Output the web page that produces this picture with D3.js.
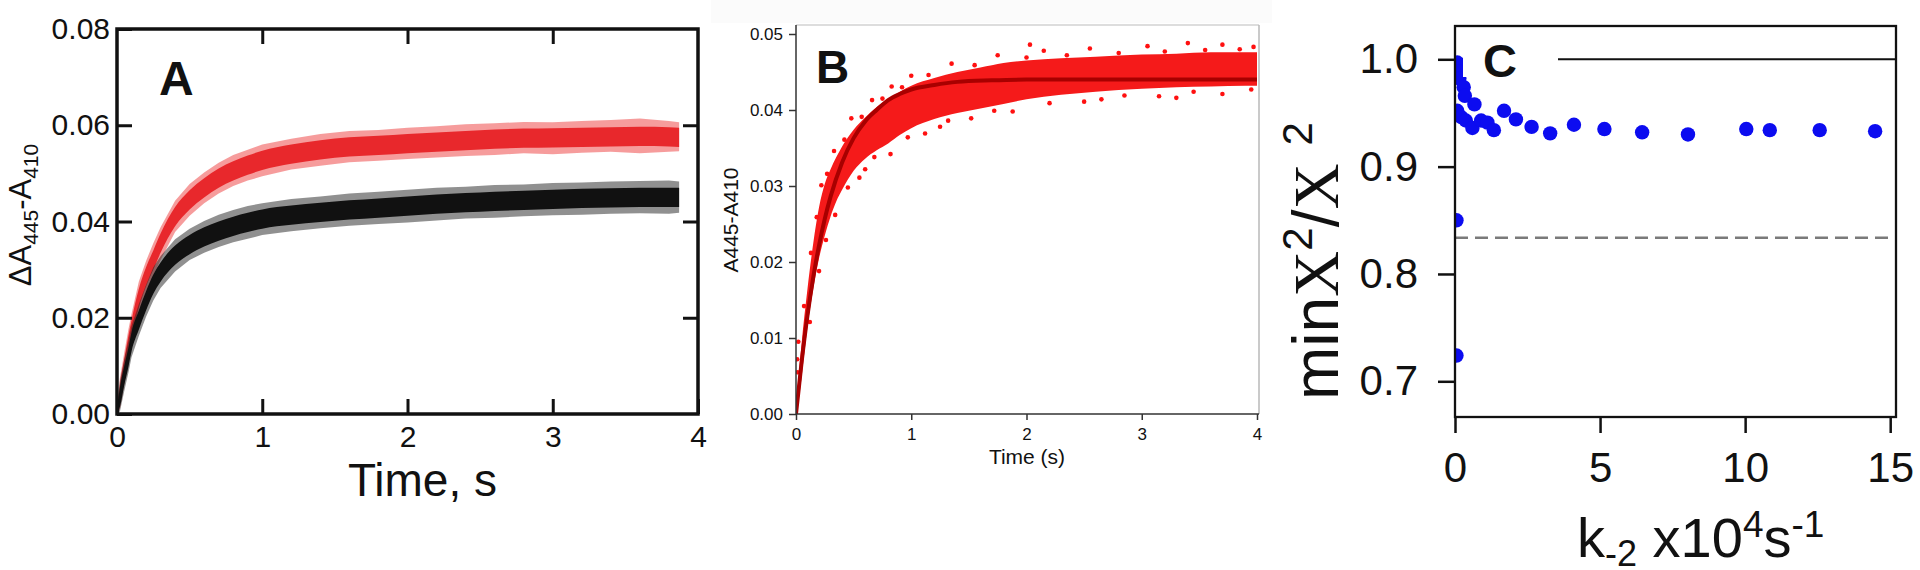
<!DOCTYPE html>
<html>
<head>
<meta charset="utf-8">
<script src="https://cdn.jsdelivr.net/npm/d3@7"></script>
<style>
  body { margin: 0; background: #fff; }
  svg { display: block; }
  text { font-family: "Liberation Sans", Arial, Helvetica, sans-serif; fill: #111; }
</style>
</head>
<body>
<svg id="fig" width="1920" height="570"></svg>
<script>
// ---- panel A : two stopped-flow traces, read as bands (core + noise fringe)
const tA = [0, 0.02, 0.05, 0.08, 0.1, 0.15, 0.2, 0.25, 0.3, 0.4, 0.5, 0.6, 0.7, 0.8, 0.9, 1.0,
  1.2, 1.4, 1.6, 1.8, 2.0, 2.2, 2.4, 2.6, 2.8, 3.0, 3.2, 3.4, 3.6, 3.8, 3.87];
const redLo = [0, 0.002, 0.0075, 0.0125, 0.0155, 0.022, 0.0265, 0.030, 0.0335, 0.039, 0.0425, 0.045, 0.047, 0.0485, 0.0497, 0.0507,
  0.052, 0.0529, 0.0535, 0.0538, 0.0542, 0.0545, 0.0548, 0.0551, 0.0553, 0.0554, 0.0555, 0.0556, 0.0557, 0.0556, 0.0555];
const redHi = [0.001, 0.006, 0.0115, 0.0165, 0.0195, 0.026, 0.0305, 0.034, 0.0375, 0.043, 0.0465, 0.049, 0.051, 0.0525, 0.0537, 0.0547,
  0.056, 0.0569, 0.0575, 0.0578, 0.0582, 0.0585, 0.0588, 0.0591, 0.0593, 0.0594, 0.0595, 0.0596, 0.0597, 0.0596, 0.0595];
const redLoOut = [0, 0.001, 0.0062, 0.0112, 0.0142, 0.0205, 0.025, 0.0288, 0.032, 0.0378, 0.0412, 0.0438, 0.0458, 0.0474, 0.0485, 0.0494,
  0.0508, 0.0516, 0.0523, 0.0526, 0.053, 0.0533, 0.0536, 0.0538, 0.0542, 0.054, 0.0543, 0.0545, 0.0542, 0.0545, 0.0546];
const redHiOut = [0.0015, 0.0075, 0.0128, 0.0178, 0.0208, 0.0275, 0.0318, 0.0355, 0.0388, 0.0443, 0.0478, 0.0502, 0.0522, 0.0538, 0.0549, 0.056,
  0.0572, 0.0582, 0.0588, 0.059, 0.0595, 0.0598, 0.0602, 0.0604, 0.0607, 0.0606, 0.0609, 0.0611, 0.0614, 0.0609, 0.0606];
const blackLo = [0, 0.0015, 0.006, 0.010, 0.013, 0.0175, 0.0215, 0.025, 0.0275, 0.031, 0.0332, 0.0348, 0.036, 0.037, 0.0378, 0.0385,
  0.0393, 0.0399, 0.0404, 0.0408, 0.0412, 0.0416, 0.0419, 0.0422, 0.0424, 0.0426, 0.0428, 0.0429, 0.043, 0.043, 0.043];
const blackHi = [0.001, 0.0055, 0.010, 0.014, 0.017, 0.0215, 0.0255, 0.029, 0.0315, 0.035, 0.0372, 0.0388, 0.040, 0.041, 0.0418, 0.0425,
  0.0433, 0.0439, 0.0444, 0.0448, 0.0452, 0.0456, 0.0459, 0.0462, 0.0464, 0.0466, 0.0468, 0.0469, 0.047, 0.047, 0.047];
const blackLoOut = [0, 0.0005, 0.0048, 0.0088, 0.0118, 0.0162, 0.0202, 0.0236, 0.0262, 0.0296, 0.032, 0.0335, 0.0347, 0.0357, 0.0364, 0.0372,
  0.038, 0.0386, 0.0391, 0.0395, 0.0398, 0.0402, 0.0406, 0.0408, 0.0411, 0.0413, 0.0414, 0.0416, 0.0417, 0.0416, 0.0418];
const blackHiOut = [0.0015, 0.0068, 0.0113, 0.0153, 0.0183, 0.0228, 0.0268, 0.0305, 0.0328, 0.0363, 0.0385, 0.0401, 0.0414, 0.0424, 0.0432, 0.0438,
  0.0447, 0.0452, 0.0458, 0.0462, 0.0466, 0.047, 0.0472, 0.0476, 0.0477, 0.048, 0.0481, 0.0483, 0.0484, 0.0485, 0.0483];
const ticksA_x = [0, 1, 2, 3, 4];
const ticksA_y = [0, 0.02, 0.04, 0.06, 0.08];

// ---- panel B : scattered points (dense band) and the single-exponential fit
const tB = [0, 0.02, 0.05, 0.1, 0.15, 0.2, 0.25, 0.3, 0.35, 0.4, 0.5, 0.6, 0.7, 0.8, 0.9, 1.0,
  1.2, 1.4, 1.6, 1.8, 2.0, 2.3, 2.6, 3.0, 3.3, 3.6, 3.9, 4.0];
const bandLo = [0, 0.0015, 0.005, 0.0115, 0.0165, 0.0205, 0.0235, 0.026, 0.028, 0.0295, 0.032, 0.0336, 0.0347, 0.0356, 0.0367, 0.0376,
  0.0388, 0.0396, 0.0402, 0.0408, 0.0414, 0.042, 0.0424, 0.0428, 0.043, 0.0431, 0.0432, 0.0432];
const bandHi = [0.001, 0.0045, 0.0095, 0.0165, 0.0225, 0.0272, 0.0303, 0.0322, 0.0338, 0.0352, 0.0374, 0.039, 0.0404, 0.0414, 0.0424, 0.0432,
  0.0442, 0.045, 0.0456, 0.0462, 0.0465, 0.0468, 0.047, 0.0473, 0.0474, 0.0476, 0.0476, 0.0476];
// points lying around the edges of the dense band
const strayT = [0.01, 0.015, 0.02, 0.07, 0.13, 0.18, 0.22, 0.27, 0.33, 0.42, 0.48, 0.57, 0.66, 0.75, 0.83, 0.92, 1.0, 1.15, 1.35,
  1.55, 1.75, 2.0, 2.03, 2.15, 2.35, 2.55, 2.8, 3.05, 3.2, 3.4, 3.55, 3.7, 3.85, 3.97,
  0.12, 0.2, 0.26, 0.34, 0.45, 0.55, 0.68, 0.82, 0.97, 1.12, 1.32, 1.52, 1.72, 1.88, 2.2, 2.5, 2.85, 3.15, 3.45, 3.7, 3.95,
  1.25, 2.65, 3.3, 0.6];
const strayV = [0.0072, 0.0055, 0.0095, 0.0142, 0.0212, 0.0259, 0.0301, 0.0316, 0.0346, 0.0361, 0.0389, 0.0391, 0.0413, 0.0415, 0.0431, 0.043, 0.0445, 0.0446, 0.0461,
  0.0459, 0.0472, 0.0469, 0.0486, 0.0478, 0.0472, 0.0481, 0.0475, 0.0484, 0.0477, 0.0488, 0.0479, 0.0486, 0.048, 0.0483,
  0.0121, 0.0188, 0.0229, 0.0262, 0.0298, 0.0311, 0.0338, 0.0342, 0.0364, 0.0369, 0.0386, 0.0389, 0.0399, 0.0398, 0.0409, 0.0411, 0.0419, 0.0418, 0.0424, 0.0421, 0.0427,
  0.0378, 0.0414, 0.0416, 0.0322];
const fitT = [0, 0.05, 0.1, 0.15, 0.2, 0.25, 0.3, 0.4, 0.5, 0.6, 0.7, 0.8, 0.9, 1.0, 1.2, 1.4, 1.7, 2.0, 2.5, 3.0, 3.5, 4.0];
const fitV = [0, 0.0070, 0.0130, 0.0180, 0.0222, 0.0257, 0.0286, 0.0331, 0.0363, 0.0385, 0.0400, 0.0413, 0.0421, 0.0427, 0.0433, 0.0437,
  0.0439, 0.0440, 0.0440, 0.0440, 0.0440, 0.0440];
const ticksB_x = [0, 1, 2, 3, 4];
const ticksB_y = [0, 0.01, 0.02, 0.03, 0.04, 0.05];

// ---- panel C : minX2/X2 against k-2
const kVals = [0.075, 0.10, 0.15, 0.30, 0.34, 0.67, 0.075, 0.22, 0.37, 0.6, 0.9, 1.12, 1.34, 1.69, 2.1, 2.64, 3.28, 4.1,
  5.15, 6.45, 8.03, 10.04, 10.85, 12.57, 14.48, 0.05, 0.05];
const ratioVals = [0.997, 0.989, 0.982, 0.974, 0.966, 0.958, 0.952, 0.946, 0.943, 0.936, 0.943, 0.941, 0.934, 0.952, 0.944, 0.937, 0.931, 0.939,
  0.935, 0.932, 0.930, 0.935, 0.934, 0.934, 0.933, 0.850, 0.724];
const refSolid = 1.0;
const refDashed = 0.8337;
const ticksC_x = [0, 5, 10, 15];
const ticksC_y = [0.7, 0.8, 0.9, 1.0];

const svg = d3.select('#fig');
const defs = svg.append('defs');

function addClip(id, x, y, w, h) {
  defs.append('clipPath').attr('id', id)
    .append('rect').attr('x', x).attr('y', y).attr('width', w).attr('height', h);
}

function styleTicks(g, color, width, size) {
  g.select('.domain').remove();
  g.selectAll('.tick line').attr('stroke', color).attr('stroke-width', width);
  g.selectAll('.tick text').attr('fill', '#111').attr('font-size', size)
    .attr('font-family', '"Liberation Sans", Arial, sans-serif');
}

// =================== A ===================
const xA = d3.scaleLinear().domain([0, 4]).range([117, 698]);
const yA = d3.scaleLinear().domain([0, 0.08]).range([414, 29]);
addClip('clipA', 117, 29, 581, 385);

const bandA = (lo, hi) => d3.area()
  .x((d, i) => xA(tA[i]))
  .y0((d, i) => yA(lo[i]))
  .y1((d, i) => yA(hi[i]));

const gA = svg.append('g').attr('clip-path', 'url(#clipA)');
gA.append('path').datum(tA).attr('d', bandA(redLoOut, redHiOut)).attr('fill', '#ee3a3a').attr('opacity', 0.5);
gA.append('path').datum(tA).attr('d', bandA(redLo, redHi).curve(d3.curveMonotoneX)).attr('fill', '#e8282c');
gA.append('path').datum(tA).attr('d', bandA(blackLoOut, blackHiOut)).attr('fill', '#222').attr('opacity', 0.5);
gA.append('path').datum(tA).attr('d', bandA(blackLo, blackHi).curve(d3.curveMonotoneX)).attr('fill', '#111');

const fmt2 = d3.format('.2f');
svg.append('g').attr('transform', 'translate(117,0)')
  .call(d3.axisLeft(yA).tickValues(ticksA_y).tickFormat(fmt2).tickSizeInner(-15).tickSizeOuter(0).tickPadding(7))
  .call(g => styleTicks(g, '#111', 3, 30));
svg.append('g').attr('transform', 'translate(698,0)')
  .call(d3.axisRight(yA).tickValues(ticksA_y.slice(1, -1)).tickFormat('').tickSizeInner(-15).tickSizeOuter(0))
  .call(g => styleTicks(g, '#111', 3, 30));
svg.append('g').attr('transform', 'translate(0,414)')
  .call(d3.axisBottom(xA).tickValues(ticksA_x).tickFormat(d3.format('d')).tickSizeInner(-15).tickSizeOuter(0).tickPadding(12))
  .call(g => styleTicks(g, '#111', 3, 30));
svg.append('g').attr('transform', 'translate(0,29)')
  .call(d3.axisTop(xA).tickValues(ticksA_x.slice(1, -1)).tickFormat('').tickSizeInner(-15).tickSizeOuter(0))
  .call(g => styleTicks(g, '#111', 3, 30));
svg.append('rect').attr('x', 117).attr('y', 29).attr('width', 581).attr('height', 385)
  .attr('fill', 'none').attr('stroke', '#111').attr('stroke-width', 3.5);

svg.append('text').attr('x', 159).attr('y', 95).attr('font-size', 48).attr('font-weight', 'bold').text('A');
svg.append('text').attr('x', 497).attr('y', 496).attr('font-size', 46).attr('text-anchor', 'end').text('Time, s');

const labA = svg.append('text').attr('transform', 'translate(31,215) rotate(-90)')
  .attr('text-anchor', 'middle').attr('font-size', 31);
labA.append('tspan').text('\u0394A');
labA.append('tspan').attr('font-size', 21).attr('dy', 7).text('445');
labA.append('tspan').attr('dy', -7).text('-A');
labA.append('tspan').attr('font-size', 21).attr('dy', 7).text('410');

// =================== B ===================
const xB = d3.scaleLinear().domain([0, 4]).range([796, 1257]);
const yB = d3.scaleLinear().domain([0, 0.05]).range([414, 34]);
addClip('clipB', 796, 25, 463, 389);

svg.append('rect').attr('x', 711).attr('y', 0).attr('width', 561).attr('height', 23).attr('fill', '#fbfbfb');

const gB = svg.append('g').attr('clip-path', 'url(#clipB)');
gB.append('path').datum(tB)
  .attr('d', d3.area().x((d, i) => xB(tB[i])).y0((d, i) => yB(bandLo[i])).y1((d, i) => yB(bandHi[i])).curve(d3.curveMonotoneX))
  .attr('fill', '#f51a1a');
gB.selectAll('circle.stray').data(strayT).join('circle').attr('class', 'stray')
  .attr('cx', d => xB(d)).attr('cy', (d, i) => yB(strayV[i])).attr('r', 2.3).attr('fill', '#ff1010');
gB.append('path').datum(fitT)
  .attr('d', d3.line().x(d => xB(d)).y((d, i) => yB(fitV[i])).curve(d3.curveMonotoneX))
  .attr('fill', 'none').attr('stroke', '#a80000').attr('stroke-width', 4);

svg.append('line').attr('x1', 796).attr('x2', 1259).attr('y1', 25).attr('y2', 25).attr('stroke', '#d2d2d2').attr('stroke-width', 1.5);
svg.append('line').attr('x1', 1259).attr('x2', 1259).attr('y1', 25).attr('y2', 414).attr('stroke', '#b8b8b8').attr('stroke-width', 1.5);
svg.append('g').attr('transform', 'translate(796,0)')
  .call(d3.axisLeft(yB).tickValues(ticksB_y).tickFormat(fmt2).tickSizeInner(7).tickSizeOuter(0).tickPadding(6))
  .call(g => styleTicks(g, '#333', 1.5, 17));
svg.append('g').attr('transform', 'translate(0,414)')
  .call(d3.axisBottom(xB).tickValues(ticksB_x).tickFormat(d3.format('d')).tickSizeInner(6).tickSizeOuter(0).tickPadding(8))
  .call(g => styleTicks(g, '#333', 1.5, 17));
svg.append('line').attr('x1', 796).attr('x2', 796).attr('y1', 25).attr('y2', 414).attr('stroke', '#333').attr('stroke-width', 1.5);
svg.append('line').attr('x1', 796).attr('x2', 1259).attr('y1', 414).attr('y2', 414).attr('stroke', '#333').attr('stroke-width', 1.5);

svg.append('text').attr('x', 816).attr('y', 83).attr('font-size', 46).attr('font-weight', 'bold').text('B');
svg.append('text').attr('x', 1027).attr('y', 464).attr('font-size', 21).attr('text-anchor', 'middle').text('Time (s)');
svg.append('text').attr('transform', 'translate(738,220) rotate(-90)').attr('text-anchor', 'middle')
  .attr('font-size', 21).text('A445-A410');

// =================== C ===================
const xC = d3.scaleLinear().domain([0, 15.2]).range([1455, 1896]);
const yC = d3.scaleLinear().domain([0.7, 1.0]).range([381.3, 59.3]);
addClip('clipC', 1455, 26, 441, 391);

const gC = svg.append('g').attr('clip-path', 'url(#clipC)');
gC.append('line').attr('x1', xC(0)).attr('x2', xC(15.2)).attr('y1', yC(refSolid)).attr('y2', yC(refSolid))
  .attr('stroke', '#111').attr('stroke-width', 2);
gC.append('line').attr('x1', xC(0)).attr('x2', xC(15.2)).attr('y1', yC(refDashed)).attr('y2', yC(refDashed))
  .attr('stroke', '#7a7a7a').attr('stroke-width', 2.5).attr('stroke-dasharray', '13,7');
gC.selectAll('circle').data(kVals).join('circle')
  .attr('cx', d => xC(d)).attr('cy', (d, i) => yC(ratioVals[i])).attr('r', 7.2).attr('fill', '#0c0cf0');

svg.append('rect').attr('x', 1463).attr('y', 44).attr('width', 95).attr('height', 33).attr('fill', '#fff');
svg.append('text').attr('x', 1483).attr('y', 77).attr('font-size', 47).attr('font-weight', 'bold').text('C');

svg.append('g').attr('transform', 'translate(1455,0)')
  .call(d3.axisLeft(yC).tickValues(ticksC_y).tickFormat(d3.format('.1f')).tickSizeInner(17).tickSizeOuter(0).tickPadding(20))
  .call(g => styleTicks(g, '#111', 2.5, 42));
svg.append('g').attr('transform', 'translate(0,417)')
  .call(d3.axisBottom(xC).tickValues(ticksC_x).tickFormat(d3.format('d')).tickSizeInner(16).tickSizeOuter(0).tickPadding(19))
  .call(g => styleTicks(g, '#111', 2.5, 42));
svg.append('rect').attr('x', 1455).attr('y', 26).attr('width', 441).attr('height', 391)
  .attr('fill', 'none').attr('stroke', '#111').attr('stroke-width', 2.3);

const labC = svg.append('text').attr('transform', 'translate(1338,400) rotate(-90)')
  .attr('text-anchor', 'start').attr('font-size', 64);
labC.append('tspan').text('min');
labC.append('tspan').attr('font-family', '"Liberation Serif", "Times New Roman", serif').text('X');
labC.append('tspan').attr('font-size', 42).attr('dy', -26).text('2');
labC.append('tspan').attr('dy', 26).text('/');
labC.append('tspan').attr('font-family', '"Liberation Serif", "Times New Roman", serif').text('X');
labC.append('tspan').text(' ');
labC.append('tspan').attr('font-size', 42).attr('dy', -26).text('2');

const titleC = svg.append('text').attr('x', 1577).attr('y', 557).attr('font-size', 56);
titleC.append('tspan').text('k');
titleC.append('tspan').attr('font-size', 36).attr('dy', 9).text('-2');
titleC.append('tspan').attr('dy', -9).text(' x10');
titleC.append('tspan').attr('font-size', 37).attr('dy', -20).text('4');
titleC.append('tspan').attr('dy', 20).text('s');
titleC.append('tspan').attr('font-size', 37).attr('dy', -20).text('-1');
</script>
</body>
</html>
